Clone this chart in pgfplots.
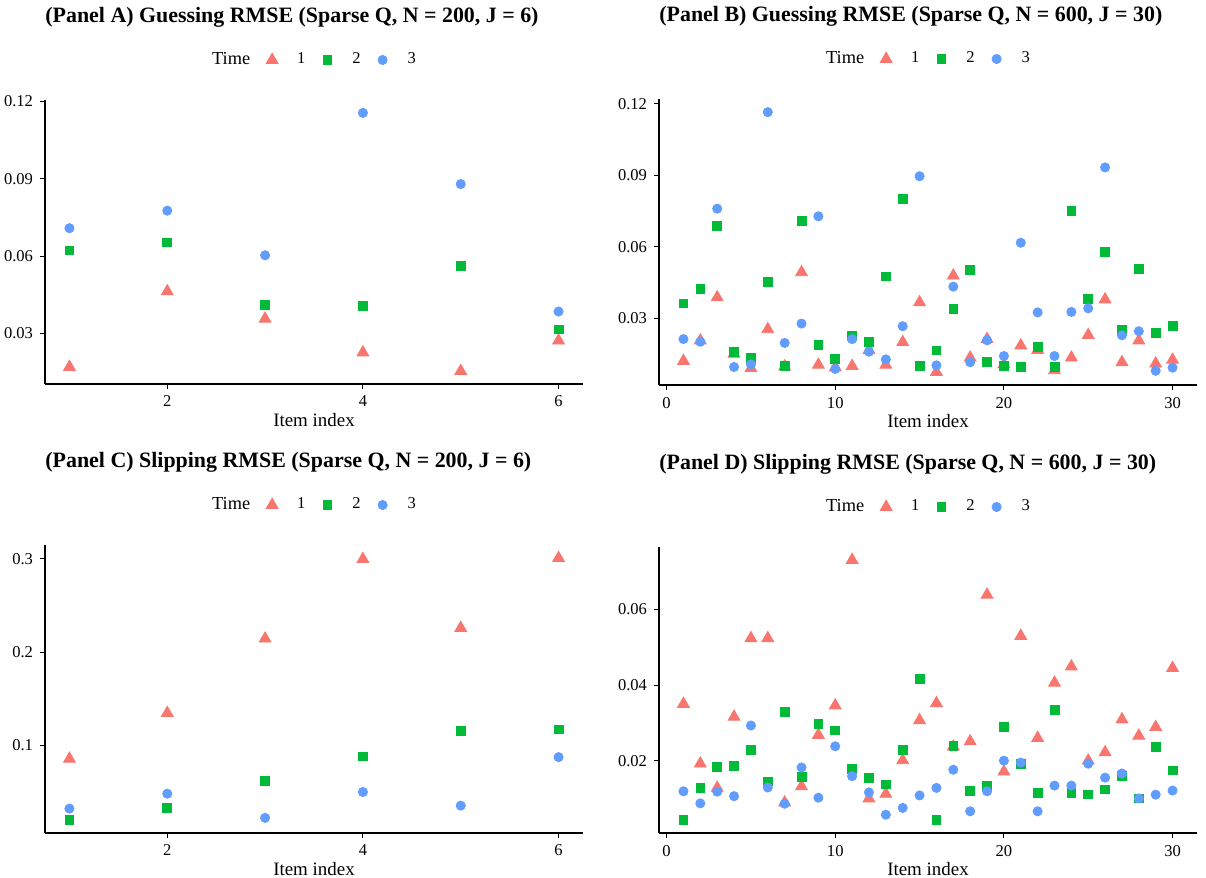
\documentclass[border=0pt]{standalone}
\usepackage{fontspec}
\setmainfont{Liberation Serif}
\usepackage{pgfplots}
\usepackage{pgfplotstable}
\pgfplotsset{compat=1.18}
\definecolor{tone}{HTML}{F8766D}
\definecolor{ttwo}{HTML}{00BA38}
\definecolor{tthree}{HTML}{619CFF}

% item, time 1, time 2, time 3
\pgfplotstableread{
item t1 t2 t3
1 0.0170 0.0622 0.0708
2 0.0463 0.0653 0.0776
3 0.0357 0.0411 0.0603
4 0.0226 0.0407 0.1155
5 0.0154 0.0561 0.0879
6 0.0272 0.0316 0.0385
}\panelA
\pgfplotstableread{
item t1 t2 t3
1 0.0121 0.0363 0.0213
2 0.0207 0.0423 0.0202
3 0.0388 0.0687 0.0760
4 0.0151 0.0158 0.0096
5 0.0091 0.0133 0.0107
6 0.0254 0.0452 0.1165
7 0.0098 0.0100 0.0197
8 0.0493 0.0710 0.0278
9 0.0105 0.0188 0.0728
10 0.0094 0.0130 0.0088
11 0.0100 0.0225 0.0213
12 0.0167 0.0200 0.0160
13 0.0105 0.0476 0.0128
14 0.0200 0.0800 0.0267
15 0.0367 0.0100 0.0896
16 0.0075 0.0166 0.0103
17 0.0479 0.0339 0.0433
18 0.0135 0.0502 0.0116
19 0.0213 0.0117 0.0208
20 0.0107 0.0100 0.0142
21 0.0186 0.0096 0.0617
22 0.0167 0.0179 0.0325
23 0.0082 0.0096 0.0142
24 0.0135 0.0752 0.0327
25 0.0230 0.0381 0.0342
26 0.0379 0.0580 0.0933
27 0.0116 0.0250 0.0229
28 0.0207 0.0507 0.0246
29 0.0110 0.0239 0.0080
30 0.0126 0.0268 0.0093
}\panelB
\pgfplotstableread{
item t1 t2 t3
1 0.0858 0.0204 0.0325
2 0.1348 0.0332 0.0485
3 0.2144 0.0620 0.0226
4 0.2996 0.0883 0.0503
5 0.2258 0.1160 0.0357
6 0.3007 0.1174 0.0876
}\panelC
\pgfplotstableread{
item t1 t2 t3
1 0.0350 0.0043 0.0119
2 0.0192 0.0127 0.0087
3 0.0128 0.0183 0.0118
4 0.0316 0.0186 0.0106
5 0.0524 0.0229 0.0293
6 0.0524 0.0145 0.0129
7 0.0089 0.0328 0.0086
8 0.0132 0.0158 0.0182
9 0.0268 0.0297 0.0102
10 0.0346 0.0280 0.0238
11 0.0731 0.0178 0.0159
12 0.0100 0.0155 0.0116
13 0.0112 0.0137 0.0057
14 0.0201 0.0229 0.0075
15 0.0307 0.0417 0.0108
16 0.0352 0.0043 0.0128
17 0.0237 0.0239 0.0176
18 0.0251 0.0119 0.0066
19 0.0639 0.0134 0.0119
20 0.0171 0.0289 0.0200
21 0.0530 0.0191 0.0195
22 0.0260 0.0114 0.0066
23 0.0406 0.0334 0.0134
24 0.0449 0.0114 0.0134
25 0.0200 0.0111 0.0192
26 0.0222 0.0124 0.0155
27 0.0309 0.0160 0.0166
28 0.0266 0.0100 0.0100
29 0.0289 0.0237 0.0110
30 0.0445 0.0174 0.0121
}\panelD

\pgfplotsset{
  rmse/.style={
    scale only axis, width=269bp, height=143bp,
    anchor=south west,
    axis lines*=left,
    axis line style={line width=0.6bp, black},
    tick align=outside, major tick length=2.5bp,
    tick style={line width=0.5bp, black},
    tick label style={font=\fontsize{8.3}{10}\selectfont},
    /pgf/number format/assume math mode=true,
    scaled y ticks=false,
    xlabel={Item index},
    xlabel style={at={(axis description cs:0.5,0)}, anchor=center, yshift=-18bp,
      font=\fontsize{9.5}{11}\selectfont},
    title style={at={(axis description cs:0,1)}, anchor=base west, inner sep=0pt,
      yshift=33bp, font=\bfseries\fontsize{11}{13}\selectfont},
    legend style={at={(0.5,1)}, anchor=center, yshift=20bp, draw=none, fill=none,
      legend columns=-1, font=\fontsize{8.3}{10}\selectfont,
      /tikz/every even column/.append style={column sep=5bp}},
    legend image code/.code={\path[draw=none, fill=none] (0bp,0bp) rectangle (14.5bp,0.1bp);
      \draw[##1] plot coordinates {(4bp,0bp)};},
  },
  s1/.style={only marks, mark=triangle*, mark size=3.4bp, color=tone, mark options={fill=tone, draw=tone}},
  s2/.style={only marks, mark=square*, mark size=2.2bp, color=ttwo, mark options={fill=ttwo, draw=ttwo}},
  s3/.style={only marks, mark=*, mark size=2.3bp, color=tthree, mark options={fill=tthree, draw=tthree}},
  small/.style={xmin=0.75, xmax=6.25, xtick={2,4,6}},
  big/.style={xmin=-0.45, xmax=31.45, xtick={0,10,20,30}},
  twodec/.style={yticklabel style={/pgf/number format/fixed, /pgf/number format/fixed zerofill, /pgf/number format/precision=2}},
  onedec/.style={yticklabel style={/pgf/number format/fixed, /pgf/number format/precision=1}},
}

\begin{document}
\begin{tikzpicture}
\path[use as bounding box] (0,0) rectangle (603bp,439bp);

\begin{axis}[rmse, small, twodec, at={(22.5bp,247bp)}, height=142bp,
  ymin=0.0104, ymax=0.1205, ytick={0.03,0.06,0.09,0.12},
  title={(Panel A) Guessing RMSE (Sparse Q, N = 200, J = 6)}]
\addlegendimage{empty legend}\addlegendentry{\fontsize{9.2}{11}\selectfont Time}
\addplot[s1] table[x=item, y=t1] {\panelA}; \addlegendentry{1}
\addplot[s2] table[x=item, y=t2] {\panelA}; \addlegendentry{2}
\addplot[s3] table[x=item, y=t3] {\panelA}; \addlegendentry{3}
\end{axis}

\begin{axis}[rmse, big, twodec, at={(329.5bp,246.5bp)},
  ymin=0.00205, ymax=0.1220, ytick={0.03,0.06,0.09,0.12},
  title={(Panel B) Guessing RMSE (Sparse Q, N = 600, J = 30)}]
\addlegendimage{empty legend}\addlegendentry{\fontsize{9.2}{11}\selectfont Time}
\addplot[s1] table[x=item, y=t1] {\panelB}; \addlegendentry{1}
\addplot[s2] table[x=item, y=t2] {\panelB}; \addlegendentry{2}
\addplot[s3] table[x=item, y=t3] {\panelB}; \addlegendentry{3}
\end{axis}

\begin{axis}[rmse, small, onedec, at={(22.5bp,22.5bp)}, height=144bp,
  ymin=0.0064, ymax=0.3147, ytick={0.1,0.2,0.3},
  title={(Panel C) Slipping RMSE (Sparse Q, N = 200, J = 6)}]
\addlegendimage{empty legend}\addlegendentry{\fontsize{9.2}{11}\selectfont Time}
\addplot[s1] table[x=item, y=t1] {\panelC}; \addlegendentry{1}
\addplot[s2] table[x=item, y=t2] {\panelC}; \addlegendentry{2}
\addplot[s3] table[x=item, y=t3] {\panelC}; \addlegendentry{3}
\end{axis}

\begin{axis}[rmse, big, twodec, at={(329.5bp,22.5bp)},
  ymin=0.00086, ymax=0.07654, ytick={0.02,0.04,0.06},
  title={(Panel D) Slipping RMSE (Sparse Q, N = 600, J = 30)}]
\addlegendimage{empty legend}\addlegendentry{\fontsize{9.2}{11}\selectfont Time}
\addplot[s1] table[x=item, y=t1] {\panelD}; \addlegendentry{1}
\addplot[s2] table[x=item, y=t2] {\panelD}; \addlegendentry{2}
\addplot[s3] table[x=item, y=t3] {\panelD}; \addlegendentry{3}
\end{axis}
\end{tikzpicture}
\end{document}
